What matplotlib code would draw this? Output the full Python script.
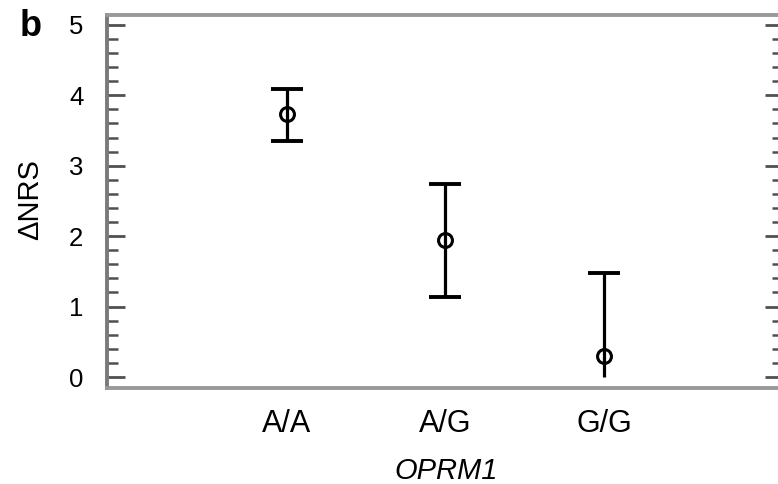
import matplotlib
matplotlib.use("Agg")
import matplotlib.pyplot as plt
import numpy as np

plt.rcParams['font.family'] = ['Liberation Sans', 'DejaVu Sans']

genotypes = ["A/A", "A/G", "G/G"]
means = [3.74, 1.95, 0.30]
upper = [4.09, 2.74, 1.48]
lower = [3.35, 1.14, 0.00]
lower_cap = [True, True, False]

fig = plt.figure(figsize=(7.78, 4.84), dpi=100)
W, H = 778, 484
ax = fig.add_axes([107 / W, 1 - 388 / H, (783 - 107) / W, (388 - 15) / H])

x = np.arange(1, len(genotypes) + 1)
m = np.array(means)
yerr = np.array([m - np.array(lower), np.array(upper) - m])
ax.errorbar(x, m, yerr=yerr, fmt='o', color='black', mfc='none', mec='black',
            ms=10, mew=2.2, elinewidth=2.3, capsize=0, zorder=3)
cap_s = 23 ** 2
ax.scatter(x, upper, marker='_', s=cap_s, linewidths=2.8, color='black', zorder=3)
lc_x = [xi for xi, f in zip(x, lower_cap) if f]
lc_y = [yi for yi, f in zip(lower, lower_cap) if f]
ax.scatter(lc_x, lc_y, marker='_', s=cap_s, linewidths=2.8, color='black', zorder=3)

ax.set_xlim(-0.136, 4.13)
ax.set_ylim(-0.156, 5.14)
ax.set_xticks(x)
ax.set_xticklabels(genotypes, fontsize=22)
ax.tick_params(axis='x', length=0, pad=15)
ax.set_yticks(range(0, 6))
ax.set_yticks(np.arange(0, 5.01, 0.2), minor=True)
ax.tick_params(axis='y', which='major', direction='in', length=13, width=2,
               color='#505050', labelsize=18.5, left=True, right=True, pad=17)
ax.tick_params(axis='y', which='minor', direction='in', length=8, width=1.8,
               color='#505050', left=True, right=True)
for s in ax.spines.values():
    s.set_color('#999999')
    s.set_linewidth(2.8)
ax.spines['left'].set_color('#7a7a7a')
ax.spines['right'].set_visible(False)

fig.text(446 / W, 1 - 479 / H, 'OPRM1', fontsize=21, style='italic',
         ha='center', va='baseline')
fig.text(30 / W, 1 - 200 / H, 'ΔNRS', fontsize=21, rotation=90,
         ha='center', va='center')
fig.text(31 / W, 1 - 27 / H, 'b', fontsize=26, fontweight='bold', va='center', ha='center')

fig.savefig('out.png', dpi=100)
